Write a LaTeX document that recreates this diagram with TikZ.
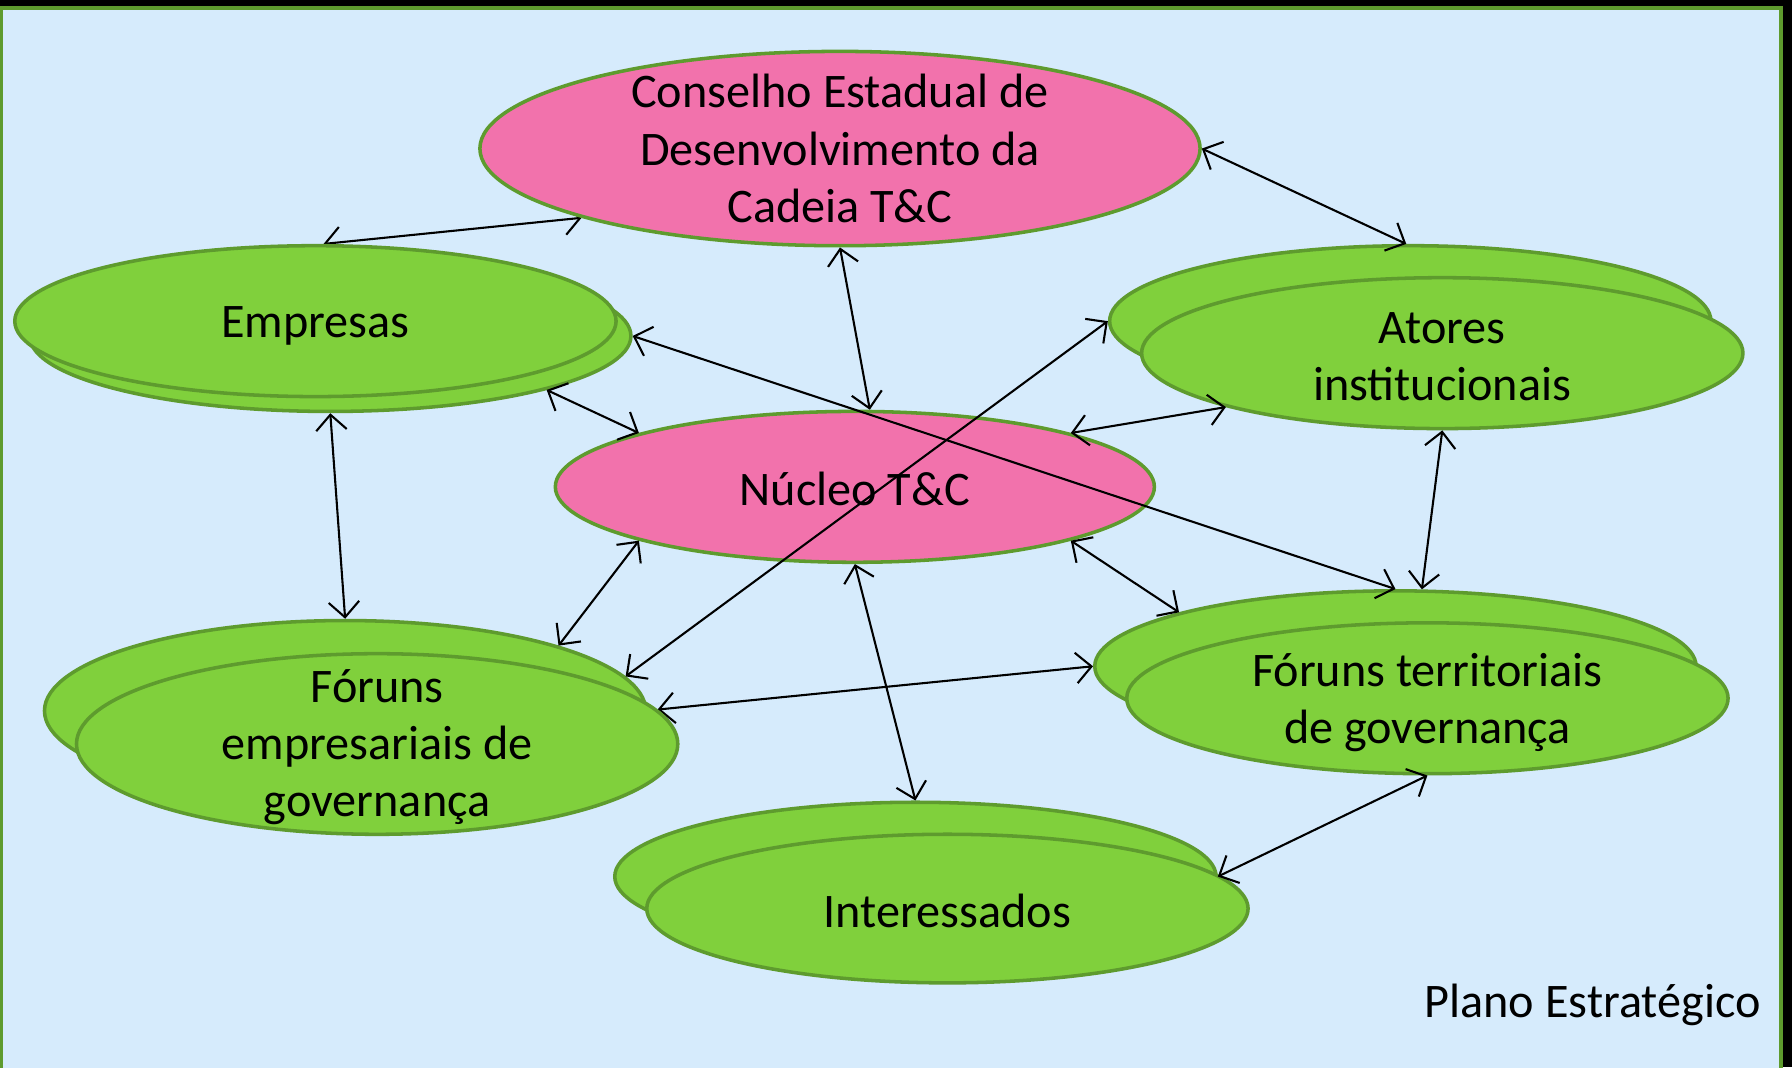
\documentclass[tikz,border=0pt]{standalone}
\usepackage{fontspec}
\setmainfont{Carlito}
\usetikzlibrary{shapes.geometric, arrows.meta}

\definecolor{skyfill}{HTML}{D6EBFC}
\definecolor{framegreen}{HTML}{5E9B2E}
\definecolor{leaf}{HTML}{80D03C}
\definecolor{rose}{HTML}{F272AC}

\pgfdeclarelayer{under}
\pgfsetlayers{under,main}

\begin{document}
\begin{tikzpicture}[x=0.0125cm, y=-0.0125cm]
    % Define block styles
    \tikzstyle{core} = [ellipse, draw=framegreen, line width=1.1pt, fill=rose, inner sep=0pt]
    \tikzstyle{forum} = [ellipse, draw=framegreen, line width=1.1pt, fill=leaf, inner sep=0pt, minimum width=6.575cm, minimum height=1.65cm]
    \tikzstyle{txt} = [align=center, inner sep=0pt, font=\fontsize{15}{17.8}\selectfont]
    \tikzstyle{arrow} = [line width=0.65pt, <->, >={Straight Barb[length=4.8pt,width=9.5pt]}]

    % Frame
    \useasboundingbox (0,0) rectangle (1568,934);
    \begin{pgfonlayer}{under}
        \fill[black] (0,0) rectangle (1568,934);
        \filldraw[fill=skyfill, draw=framegreen, line width=1.2pt] (1,7) rectangle (1558,950);
    \end{pgfonlayer}

    % Nodes
    \node (cons) [core, minimum width=7.875cm, minimum height=2.125cm] at (735,130) {};
    \node (emp-b) [forum] at (289,294) {};
    \node (emp) [forum] at (276,281) {};
    \node (ato-b) [forum] at (1234,281) {};
    \node (ato) [forum] at (1262,309) {};
    \node (nuc) [core, minimum width=6.55cm, minimum height=1.65cm] at (748,426) {};
    \node (fem-b) [forum, minimum height=1.975cm] at (302,622) {};
    \node (fem) [forum, minimum height=1.975cm] at (330,651) {};
    \node (ftr-b) [forum] at (1221,583) {};
    \node (ftr) [forum] at (1249,611) {};
    \node (int-b) [forum, minimum height=1.625cm] at (801,767) {};
    \node (int) [forum, minimum height=1.625cm] at (829,795) {};

    % Texts
    \node (cons-t) [txt] at (735,130) {Conselho Estadual de\\Desenvolvimento da\\Cadeia T\&C};
    \node (emp-t) [txt] at (276,285) {Empresas};
    \node (ato-t) [txt] at (1262,312) {Atores\\institucionais};
    \node (nuc-t) [txt] at (748,428) {Núcleo T\&C};
    \node (fem-t) [txt] at (330,654) {Fóruns\\empresariais de\\governança};
    \node (ftr-t) [txt] at (1249,615) {Fóruns territoriais\\de governança};
    \node (int-t) [txt] at (829,797) {Interessados};
    \node (plano) [txt, anchor=base east] at (1541,890) {Plano Estratégico};

    % Arrows (two of them pass under the ellipses)
    \begin{pgfonlayer}{under}
        \draw [arrow] (emp.84) -- (cons.-165);
        \draw [arrow] (fem.7) -- (ftr-b.west);
    \end{pgfonlayer}
    \draw [arrow] (cons.east) -- (ato-b.93);
    \draw [arrow] (cons.south) -- (nuc.79);
    \draw [arrow] (emp-b.-14) -- (nuc.166);
    \draw [arrow] (emp-b.east) -- (ftr-b.north);
    \draw [arrow] (ato.-166) -- (nuc.14);
    \draw [arrow] (ato-b.west) -- (fem-b.7);
    \draw [arrow] (emp-b.south) -- (fem-b.north);
    \draw [arrow] (ato.south) -- (ftr-b.71);
    \draw [arrow] (nuc.-166) -- (fem-b.17);
    \draw [arrow] (nuc.-14) -- (ftr-b.166);
    \draw [arrow] (nuc.south) -- (int-b.north);
    \draw [arrow] (ftr.south) -- (int-b.east);
\end{tikzpicture}
\end{document}
